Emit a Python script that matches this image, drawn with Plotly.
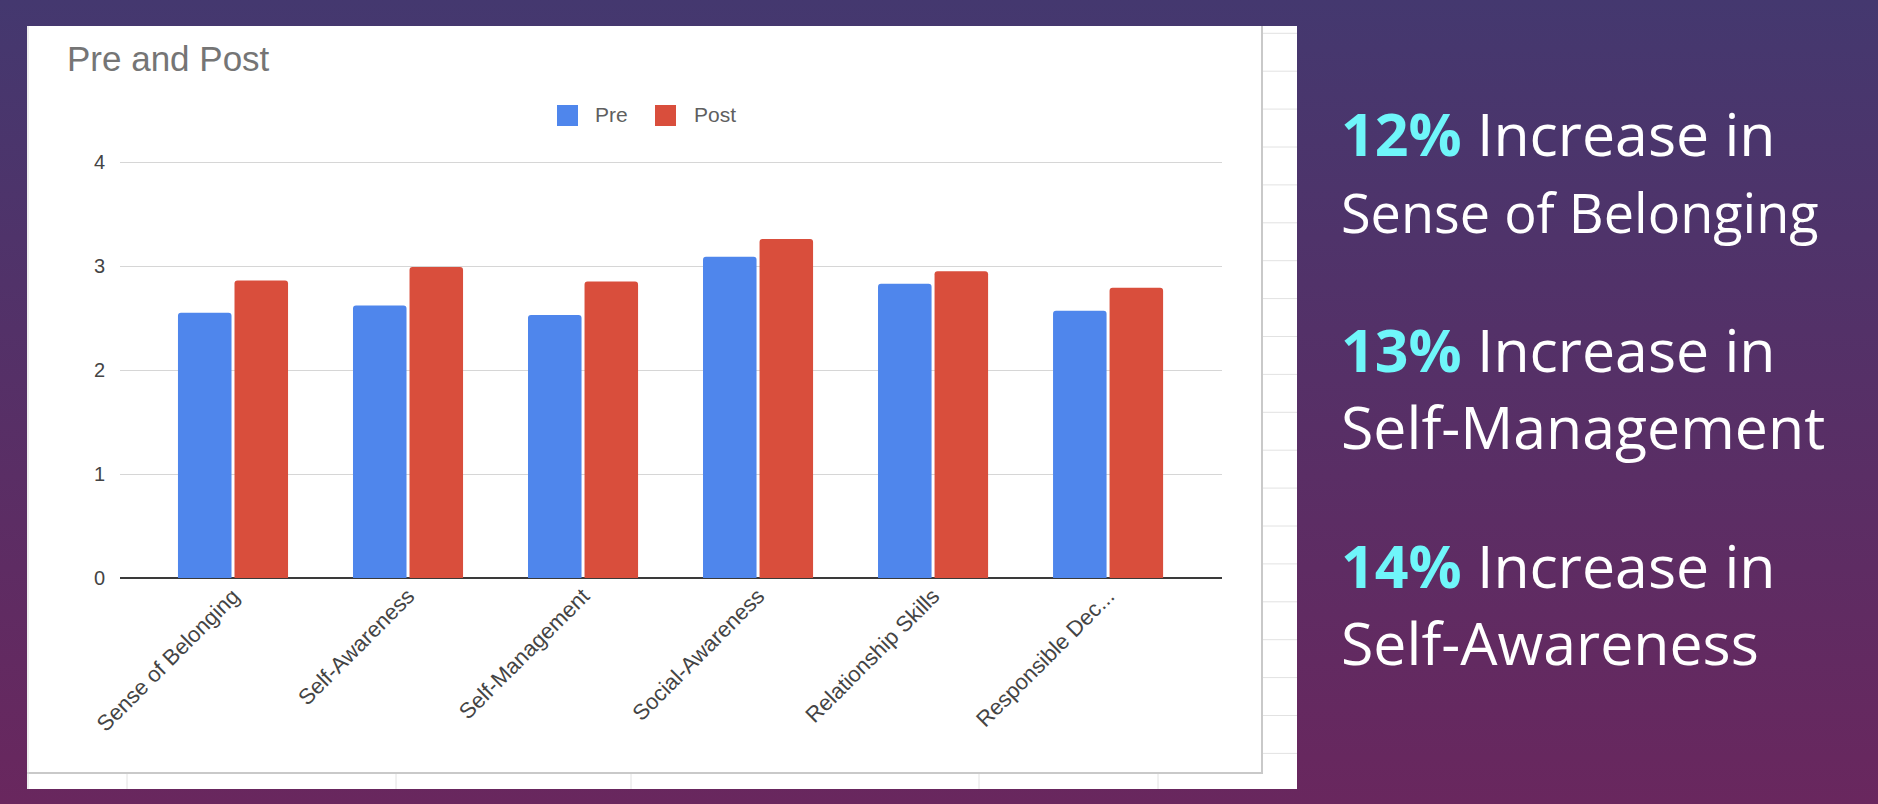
#!/usr/bin/env python3
"""Pre/post survey bar chart on a purple slide, with headline stats on the right."""
import base64

import plotly.graph_objects as go

W, H = 1878, 804

categories = [
    "Sense of Belonging",
    "Self-Awareness",
    "Self-Management",
    "Social-Awareness",
    "Relationship Skills",
    "Responsible Dec...",
]
pre = [2.55, 2.62, 2.53, 3.09, 2.83, 2.57]
post = [2.86, 2.99, 2.85, 3.26, 2.95, 2.79]
y_ticks = [0, 1, 2, 3, 4]

series_names = ["Pre", "Post"]
series_colors = ["#4f86ec", "#d94e3c"]

pct_labels = ["12%", "13%", "14%"]
skill_labels = ["Sense of Belonging", "Self-Management", "Self-Awareness"]
skill_sizes = [54, 59, 59]  # the first one was shrunk to fit on the slide

CYAN = "#6ff6fa"
ARIAL = "Arial, Liberation Sans, sans-serif"
OPEN = "Open Sans, sans-serif"


def px(x):
    return x / W


def py(y):
    return 1 - y / H


# slide background gradient as an svg image
svg = (
    f'<svg xmlns="http://www.w3.org/2000/svg" width="{W}" height="{H}">'
    '<defs><linearGradient id="g" x1="0" y1="0" x2="0" y2="1">'
    '<stop offset="0" stop-color="#44386f"/>'
    '<stop offset="1" stop-color="#69275e"/>'
    "</linearGradient></defs>"
    f'<rect width="{W}" height="{H}" fill="url(#g)"/></svg>'
)
bg_src = "data:image/svg+xml;base64," + base64.b64encode(svg.encode()).decode()

fig = go.Figure()
for name, vals, color in zip(series_names, [pre, post], series_colors):
    fig.add_trace(
        go.Bar(x=categories, y=vals, name=name, marker=dict(color=color, line=dict(width=0)), showlegend=False)
    )

shapes = [
    # white screenshot card
    dict(type="rect", xref="paper", yref="paper", x0=px(27), x1=px(1297), y0=py(789), y1=py(26),
         fillcolor="white", line=dict(width=0), layer="below"),
]
# spreadsheet cells peeking out at the right and bottom
y = 33.3
while y < 789:
    shapes.append(dict(type="line", xref="paper", yref="paper", x0=px(1262), x1=px(1297), y0=py(y), y1=py(y),
                       line=dict(color="#e2e2e2", width=1), layer="below"))
    y += 37.9
for x in [127, 396, 631, 979, 1158]:
    shapes.append(dict(type="line", xref="paper", yref="paper", x0=px(x), x1=px(x), y0=py(773), y1=py(789),
                       line=dict(color="#e2e2e2", width=1), layer="below"))
# chart frame borders
shapes += [
    dict(type="line", xref="paper", yref="paper", x0=px(1262), x1=px(1262), y0=py(26), y1=py(774),
         line=dict(color="#c9c9c9", width=2), layer="below"),
    dict(type="line", xref="paper", yref="paper", x0=px(27), x1=px(1262), y0=py(773), y1=py(773),
         line=dict(color="#c9c9c9", width=2), layer="below"),
    dict(type="line", xref="paper", yref="paper", x0=px(28), x1=px(28), y0=py(26), y1=py(789),
         line=dict(color="#dcdcdc", width=1), layer="below"),
]

annotations = [
    dict(text="Pre and Post", xref="paper", yref="paper", x=px(65), y=py(59), xanchor="left", yanchor="middle",
         showarrow=False, font=dict(family=ARIAL, size=35, color="#757575")),
]

# legend drawn by hand so the swatches match the big Google-style squares
legend_sq = [557, 655]
legend_tx = [593, 692]
for name, color, sx, tx in zip(series_names, series_colors, legend_sq, legend_tx):
    shapes.append(dict(type="rect", xref="paper", yref="paper", x0=px(sx), x1=px(sx + 21), y0=py(126), y1=py(105),
                       fillcolor=color, line=dict(width=0), layer="above"))
    annotations.append(dict(text=name, xref="paper", yref="paper", x=px(tx), y=py(115), xanchor="left",
                            yanchor="middle", showarrow=False, font=dict(family=ARIAL, size=21, color="#5f5f5f")))

# headline stats on the right, one two-line block each
for i, (pct, skill, ssize) in enumerate(zip(pct_labels, skill_labels, skill_sizes)):
    mid = 171 + 216 * i
    annotations.append(dict(
        text=(f"<b><span style='color:{CYAN}'>{pct}</span></b> Increase in<br>"
              f"<span style='font-size:{ssize}px'>{skill}</span>"),
        xref="paper", yref="paper", x=px(1339), y=py(mid), xanchor="left", yanchor="middle", align="left",
        showarrow=False, font=dict(family=OPEN, size=59, color="white"),
    ))

y0_px, unit_px, y_top = 578, 104, 4.05
fig.update_layout(
    template="none",
    width=W,
    height=H,
    autosize=False,
    margin=dict(l=0, r=0, t=0, b=0, pad=0),
    paper_bgcolor="#55306a",
    plot_bgcolor="white",
    barmode="group",
    bargap=0.354,
    bargroupgap=0.053,
    barcornerradius=3,
    images=[dict(source=bg_src, xref="paper", yref="paper", x=0, y=1, sizex=1, sizey=1, sizing="stretch",
                 xanchor="left", yanchor="top", layer="below")],
    shapes=shapes,
    annotations=annotations,
    xaxis=dict(
        domain=[px(120), px(1222)],
        type="category",
        range=[-0.6457, 5.651],
        tickangle=-45,
        tickfont=dict(family=ARIAL, size=22, color="#444444"),
        showgrid=False,
        showline=False,
        zeroline=False,
        ticks="",
        automargin=False,
        fixedrange=True,
    ),
    yaxis=dict(
        domain=[py(y0_px), py(y0_px - y_top * unit_px)],
        range=[0, y_top],
        tickvals=y_ticks,
        tickfont=dict(family=ARIAL, size=20, color="#444444"),
        ticklabelstandoff=14,
        ticks="",
        showgrid=True,
        gridcolor="#d6d6d6",
        gridwidth=1,
        zeroline=True,
        zerolinecolor="#3a3a3a",
        zerolinewidth=2,
        showline=False,
        automargin=False,
        fixedrange=True,
    ),
)

# the page's default 8px body margin would shift the slide, so drop it
fig.write_html(
    "out.html",
    config={"displayModeBar": False},
    post_script="document.body.style.margin='0';document.body.style.background='#44386f';",
)
